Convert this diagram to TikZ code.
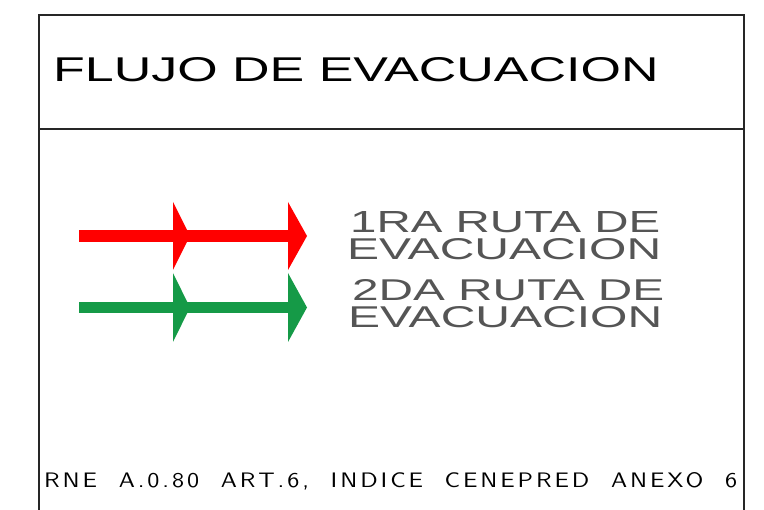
\documentclass[tikz,border=0pt]{standalone}
\usepackage{fontspec}
\usepackage{graphicx}
\setmainfont{Liberation Sans}
\newfontfamily\cadfont[LetterSpace=12]{Latin Modern Sans}
\definecolor{rutaroja}{RGB}{255,0,0}
\definecolor{rutaverde}{RGB}{21,154,71}
\definecolor{textogris}{RGB}{85,85,85}

\begin{document}
\begin{tikzpicture}[
    x=1pt, y=-1pt,
    frame/.style={draw=black!85, line width=1.4pt},
    label/.style={inner sep=0pt, anchor=base west},
    ruta/.style={textogris, inner sep=0pt, anchor=base west}
]
\useasboundingbox (0,0) rectangle (764,510);

% Marco
\draw[frame] (39,510) -- (39,15) -- (744,15) -- (744,510);
\draw[frame] (39,129) -- (744,129);

% Titulo
\node[label] (titulo) at (53,82) {\resizebox{605pt}{24pt}{FLUJO DE EVACUACION}};

% Flechas
\fill[rutaroja] (79,230) rectangle (290,242);
\foreach \xa/\xb in {173/190, 288/307}
    \fill[rutaroja] (\xa,202) -- (\xb,236) -- (\xa,270) -- cycle;
\fill[rutaverde] (79,302) rectangle (290,313);
\foreach \xa/\xb in {173/190, 288/307}
    \fill[rutaverde] (\xa,273) -- (\xb,307.5) -- (\xa,342) -- cycle;

% Leyenda
\node[ruta] (ruta1) at (350,233) {\resizebox{310pt}{21pt}{1RA RUTA DE}};
\node[ruta] (evac1) at (347,260) {\resizebox{314pt}{21pt}{EVACUACION}};
\node[ruta] (ruta2) at (352,301) {\resizebox{312pt}{21pt}{2DA RUTA DE}};
\node[ruta] (evac2) at (348,328) {\resizebox{314pt}{21pt}{EVACUACION}};

% Nota
\node[label] (nota) at (44,488) {\resizebox{693pt}{15pt}{\cadfont RNE\hspace{0.9em}A.0.80\hspace{0.9em}ART.6,\hspace{0.9em}INDICE\hspace{0.9em}CENEPRED\hspace{0.9em}ANEXO\hspace{0.9em}6}};

\end{tikzpicture}
\end{document}
